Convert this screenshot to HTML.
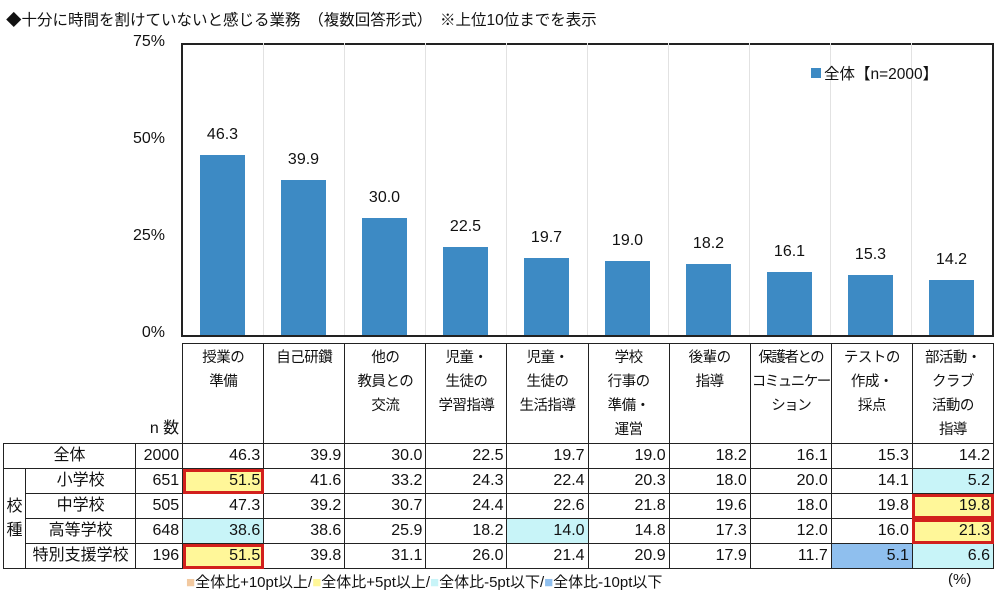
<!DOCTYPE html><html><head><meta charset="utf-8"><style>
body{margin:0;width:1000px;height:595px;background:#fff;position:relative;overflow:hidden;font-family:"Liberation Sans","Noto Sans CJK JP",sans-serif;color:#111}
.a{position:absolute}
.yl{font-size:16px;width:50px;text-align:right;left:115px}
.bar{position:absolute;background:#3d8ac4;width:45px}
.bv{position:absolute;font-size:16px;width:81px;text-align:center}
.g{position:absolute;top:43px;height:292px;width:1px;background:#e2e2e2}
table{position:absolute;left:3px;top:343px;border-collapse:collapse;font-size:16px;table-layout:fixed;width:991px}
td{border:1.5px solid #222;padding:0 3px;height:24px;text-align:right;line-height:22px;white-space:nowrap;overflow:visible}
td.h{vertical-align:top;text-align:center;line-height:24px;height:97px;padding:2px 0 0;font-size:14.5px;letter-spacing:-0.5px}
.y{background:#fff799}.c{background:#c8f4f8}.b{background:#8fbfee}
.r{outline:3px solid #d2201c;outline-offset:-3px}
</style></head><body>
<div class="a" style="left:6px;top:8px;font-size:15.5px">◆十分に時間を割けていないと感じる業務　（複数回答形式）　※上位10位までを表示</div>
<div class="a yl" style="top:33px">75%</div>
<div class="a yl" style="top:130px">50%</div>
<div class="a yl" style="top:227px">25%</div>
<div class="a yl" style="top:324px">0%</div>
<div class="a" style="left:181px;top:43px;width:809px;height:290px;border:2px solid #222"></div>
<div class="g" style="left:263px"></div><div class="g" style="left:344px"></div><div class="g" style="left:425px"></div><div class="g" style="left:506px"></div><div class="g" style="left:587px"></div><div class="g" style="left:668px"></div><div class="g" style="left:749px"></div><div class="g" style="left:830px"></div><div class="g" style="left:911px"></div>
<div class="a" style="left:811px;top:68px;width:10px;height:10px;background:#3d8ac4"></div>
<div class="a" style="left:824px;top:62px;font-size:15.5px">全体【n=2000】</div>
<div id="bars"></div>
<script>
var v=[46.3,39.9,30.0,22.5,19.7,19.0,18.2,16.1,15.3,14.2],h='';
v.forEach(function(x,i){var l=182+i*81,t=335-x*3.893;
h+='<div class="bar" style="left:'+(l+18)+'px;top:'+t+'px;height:'+(335-t)+'px"></div><div class="bv" style="left:'+l+'px;top:'+(t-29)+'px">'+x.toFixed(1)+'</div>';});
document.getElementById('bars').innerHTML=h;
</script>
<table>
<colgroup><col style="width:22px"><col style="width:110px"><col style="width:47px"><col span="10" style="width:81px"></colgroup>
<tr><td colspan="3" style="border:none;border-bottom:1.5px solid #222;vertical-align:bottom;text-align:right;padding-bottom:3px">n 数</td>
<td class="h">授業の<br>準備</td><td class="h">自己研鑽</td><td class="h">他の<br>教員との<br>交流</td><td class="h">児童・<br>生徒の<br>学習指導</td><td class="h">児童・<br>生徒の<br>生活指導</td><td class="h">学校<br>行事の<br>準備・<br>運営</td><td class="h">後輩の<br>指導</td><td class="h" style="letter-spacing:-1.5px">保護者との<br>コミュニケー<br>ション</td><td class="h">テストの<br>作成・<br>採点</td><td class="h">部活動・<br>クラブ<br>活動の<br>指導</td></tr>
<tr><td colspan="2" style="text-align:center">全体</td><td>2000</td><td>46.3</td><td>39.9</td><td>30.0</td><td>22.5</td><td>19.7</td><td>19.0</td><td>18.2</td><td>16.1</td><td>15.3</td><td>14.2</td></tr>
<tr><td rowspan="4" style="text-align:center;padding:0;line-height:24px">校<br>種</td><td style="text-align:center">小学校</td><td>651</td><td class="y r">51.5</td><td>41.6</td><td>33.2</td><td>24.3</td><td>22.4</td><td>20.3</td><td>18.0</td><td>20.0</td><td>14.1</td><td class="c">5.2</td></tr>
<tr><td style="text-align:center">中学校</td><td>505</td><td>47.3</td><td>39.2</td><td>30.7</td><td>24.4</td><td>22.6</td><td>21.8</td><td>19.6</td><td>18.0</td><td>19.8</td><td class="y r">19.8</td></tr>
<tr><td style="text-align:center">高等学校</td><td>648</td><td class="c">38.6</td><td>38.6</td><td>25.9</td><td>18.2</td><td class="c">14.0</td><td>14.8</td><td>17.3</td><td>12.0</td><td>16.0</td><td class="y r">21.3</td></tr>
<tr><td style="text-align:center">特別支援学校</td><td>196</td><td class="y r">51.5</td><td>39.8</td><td>31.1</td><td>26.0</td><td>21.4</td><td>20.9</td><td>17.9</td><td>11.7</td><td class="b">5.1</td><td class="c">6.6</td></tr>
</table>
<div class="a" style="left:186px;top:571px;font-size:15px"><span style="color:#f2c9a0">■</span>全体比+10pt以上/<span style="color:#fff799">■</span>全体比+5pt以上/<span style="color:#c8f4f8">■</span>全体比-5pt以下/<span style="color:#8fbfee">■</span>全体比-10pt以下</div>
<div class="a" style="left:948px;top:571px;font-size:15px">(%)</div>
</body></html>
